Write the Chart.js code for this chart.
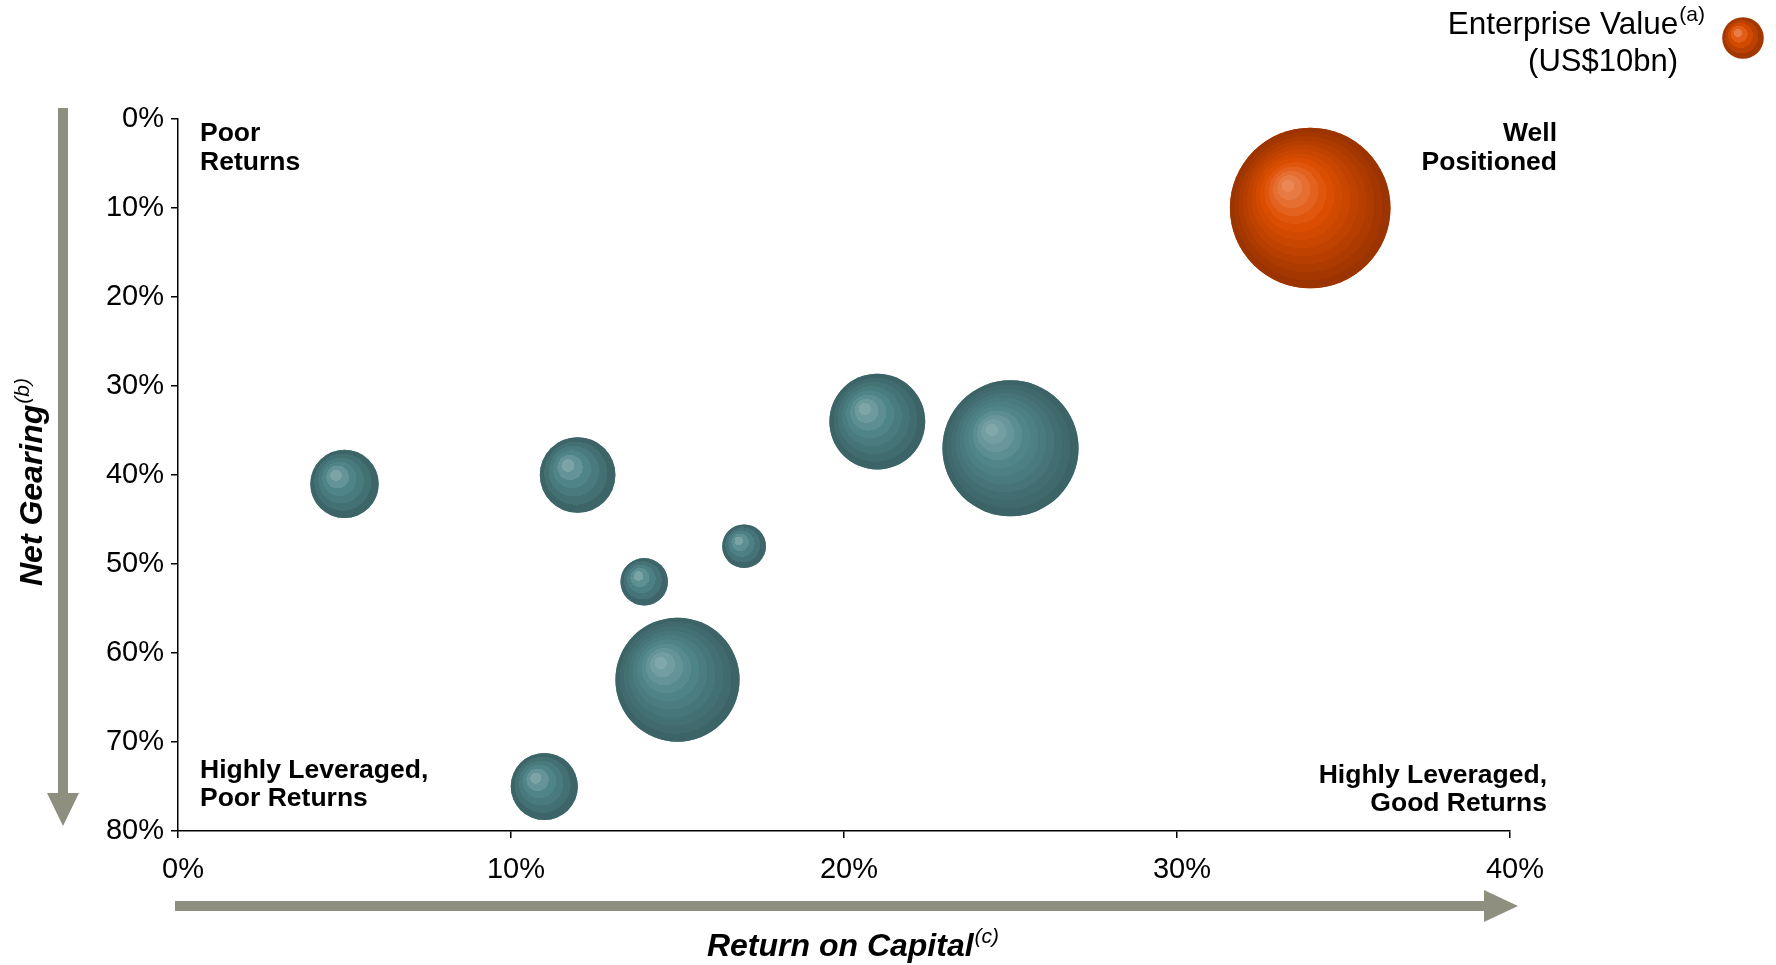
<!DOCTYPE html>
<html>
<head>
<meta charset="utf-8">
<script src="https://cdn.jsdelivr.net/npm/chart.js@4.4.1/dist/chart.umd.min.js"></script>
<style>
  html, body { margin: 0; padding: 0; background: #fff; }
  #wrap { width: 1776px; height: 965px; }
</style>
</head>
<body>
<div id="wrap"><canvas id="bubbleChart" width="1776" height="965"></canvas></div>
<script>
// Peer group: return on capital (%), net gearing (%), enterprise value (US$bn)
const peerRoc     = [5, 12, 14, 17, 15, 21, 25, 11];
const peerGearing = [41, 40, 52, 48, 63, 34, 37, 75];
const peerEv      = [27, 33, 13, 11, 89, 53, 107, 26];

// Highlighted company
const focusRoc     = [34];
const focusGearing = [10];
const focusEv      = [149];

const xTicks = [0, 10, 20, 30, 40];
const yTicks = [0, 10, 20, 30, 40, 50, 60, 70, 80];
const legendEv = 10;

const FONT = '"Liberation Sans", Arial, Helvetica, sans-serif';
const ARROW = 'rgb(143,143,128)';
const R_REF = 20.8; // radius of a US$10bn bubble

const radiusFor = v => R_REF * Math.sqrt(v / legendEv);

const teal   = [[135, 172, 174], [80, 134, 138], [58, 96, 99]];
const orange = [[236, 140, 94], [222, 78, 0], [150, 50, 0]];

function mix(p, t) {
  const a = t < 0.4 ? p[0] : p[1];
  const b = t < 0.4 ? p[1] : p[2];
  const k = t < 0.4 ? t / 0.4 : (t - 0.4) / 0.6;
  const c = a.map((v, i) => Math.round(v + (b[i] - v) * k));
  return `rgb(${c[0]},${c[1]},${c[2]})`;
}

// banded sphere shading, light source up-left
function ballFill(ctx, x, y, r, palette) {
  const g = ctx.createRadialGradient(x - 0.3 * r, y - 0.3 * r, 0, x, y, r);
  const n = Math.max(5, Math.round(r / 6));
  for (let i = 0; i < n; i++) {
    const c = mix(palette, (i + 0.5) / n);
    g.addColorStop(i / n, c);
    g.addColorStop((i + 1) / n, c);
  }
  return g;
}

function drawBall(ctx, x, y, r, palette) {
  ctx.fillStyle = ballFill(ctx, x, y, r, palette);
  ctx.beginPath();
  ctx.arc(x, y, r, 0, Math.PI * 2);
  ctx.fill();
}

function toPoints(xs, ys, vs) {
  return xs.map((x, i) => ({ x: x, y: ys[i], r: radiusFor(vs[i]) }));
}

// align: 'center' on the whole run, 'right' on the end of the superscript
function textWithSup(ctx, main, sup, x, y, font, supFont, align, rise) {
  ctx.font = font;
  const w1 = ctx.measureText(main).width;
  ctx.font = supFont;
  const w2 = ctx.measureText(sup).width;
  const total = w1 + 1 + w2;
  let start = x;
  if (align === 'center') start = x - total / 2;
  if (align === 'right') start = x - total;
  ctx.textAlign = 'left';
  ctx.textBaseline = 'alphabetic';
  ctx.font = font;
  ctx.fillText(main, start, y);
  ctx.font = supFont;
  ctx.fillText(sup, start + w1 + 1, y - rise);
}

// repaint each bubble with sphere shading at the position the scales gave it
const sphereShading = {
  id: 'sphereShading',
  afterDatasetsDraw(chart) {
    const ctx = chart.ctx;
    ctx.save();
    chart.data.datasets.forEach((ds, i) => {
      const meta = chart.getDatasetMeta(i);
      meta.data.forEach(el => {
        drawBall(ctx, el.x, el.y, el.options.radius, ds.palette);
      });
    });
    ctx.restore();
  }
};

const decorations = {
  id: 'decorations',
  afterDraw(chart) {
    const ctx = chart.ctx;
    ctx.save();
    ctx.fillStyle = ARROW;

    // vertical arrow (gearing increases downward)
    ctx.fillRect(58, 108, 10, 686);
    ctx.beginPath();
    ctx.moveTo(47, 793); ctx.lineTo(79, 793); ctx.lineTo(63, 826);
    ctx.closePath(); ctx.fill();

    // horizontal arrow (returns increase to the right)
    ctx.fillRect(175, 901, 1310, 10);
    ctx.beginPath();
    ctx.moveTo(1484, 890); ctx.lineTo(1484, 922); ctx.lineTo(1518, 906);
    ctx.closePath(); ctx.fill();

    // quadrant labels
    ctx.fillStyle = '#000';
    ctx.font = 'bold 26.5px ' + FONT;
    ctx.textBaseline = 'alphabetic';
    ctx.textAlign = 'left';
    ctx.fillText('Poor', 200, 141);
    ctx.fillText('Returns', 200, 170);
    ctx.fillText('Highly Leveraged,', 200, 778);
    ctx.fillText('Poor Returns', 200, 806);
    ctx.textAlign = 'right';
    ctx.fillText('Well', 1557, 141);
    ctx.fillText('Positioned', 1557, 170);
    ctx.fillText('Highly Leveraged,', 1547, 783);
    ctx.fillText('Good Returns', 1547, 811);

    // axis titles
    textWithSup(ctx, 'Return on Capital', '(c)', 853, 956,
      'italic bold 32px ' + FONT, 'italic 21px ' + FONT, 'center', 13);

    ctx.save();
    ctx.translate(42, 482);
    ctx.rotate(-Math.PI / 2);
    textWithSup(ctx, 'Net Gearing', '(b)', 0, 0,
      'italic bold 32px ' + FONT, 'italic 21px ' + FONT, 'center', 13);
    ctx.restore();

    // size key
    ctx.fillStyle = '#000';
    textWithSup(ctx, 'Enterprise Value', '(a)', 1705, 34,
      '31.5px ' + FONT, '21px ' + FONT, 'right', 13);
    ctx.font = '31px ' + FONT;
    ctx.textAlign = 'right';
    ctx.fillText('(US$10bn)', 1678, 71);

    drawBall(ctx, 1743, 38, radiusFor(legendEv), orange);
    ctx.restore();
  }
};

const axisGrid = {
  drawOnChartArea: false,
  drawTicks: true,
  tickLength: 7,
  color: '#000',
  lineWidth: 1.5
};

new Chart(document.getElementById('bubbleChart'), {
  type: 'bubble',
  data: {
    datasets: [
      {
        label: 'Focus',
        data: toPoints(focusRoc, focusGearing, focusEv),
        palette: orange,
        backgroundColor: mix(orange, 0.5),
        borderWidth: 0
      },
      {
        label: 'Peers',
        data: toPoints(peerRoc, peerGearing, peerEv),
        palette: teal,
        backgroundColor: mix(teal, 0.5),
        borderWidth: 0
      }
    ]
  },
  options: {
    responsive: false,
    animation: false,
    events: [],
    layout: { padding: { left: 0, right: 266, top: 119, bottom: 0 } },
    plugins: { legend: { display: false }, tooltip: { enabled: false } },
    scales: {
      x: {
        type: 'linear',
        min: 0, max: 40,
        afterBuildTicks: s => { s.ticks = xTicks.map(v => ({ value: v })); },
        afterFit: s => { s.height = 134; },
        grid: axisGrid,
        border: { display: true, color: '#000', width: 1.5 },
        ticks: {
          color: '#000',
          padding: 15,
          labelOffset: 5,
          font: { family: FONT, size: 29 },
          callback: v => v + '%'
        }
      },
      y: {
        type: 'linear',
        reverse: true,
        min: 0, max: 80,
        afterBuildTicks: s => { s.ticks = yTicks.map(v => ({ value: v })); },
        afterFit: s => { s.width = 178; },
        grid: axisGrid,
        border: { display: true, color: '#000', width: 1.5 },
        ticks: {
          color: '#000',
          padding: 7,
          font: { family: FONT, size: 29 },
          callback: v => v + '%'
        }
      }
    }
  },
  plugins: [sphereShading, decorations]
});
</script>
</body>
</html>
